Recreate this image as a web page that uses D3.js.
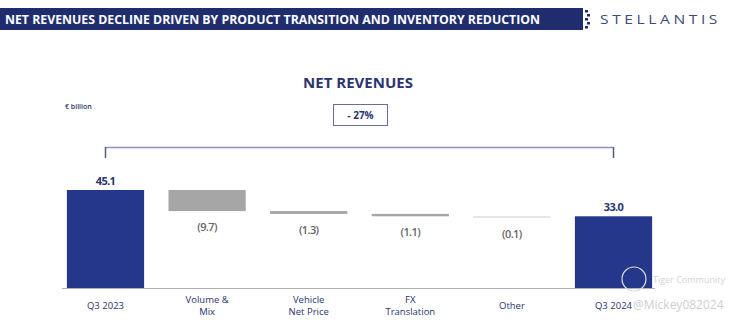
<!DOCTYPE html>
<html>
<head>
<meta charset="utf-8">
<script src="https://cdn.jsdelivr.net/npm/d3@7"></script>
<style>
  body { margin: 0; background: #fff; }
  svg { display: block; font-family: "Open Sans", "DejaVu Sans", sans-serif; }
</style>
</head>
<body>
<div id="chart"></div>
<script>
// waterfall data, € billion
const categories = ['Q3 2023', 'Volume &\nMix', 'Vehicle\nNet Price', 'FX\nTranslation', 'Other', 'Q3 2024']
const values = [45.1, -9.7, -1.3, -1.1, -0.1, 33.0]
const kinds = ['total', 'delta', 'delta', 'delta', 'delta', 'total']
const valueLabels = ['45.1', '(9.7)', '(1.3)', '(1.1)', '(0.1)', '33.0']

const W = 742, H = 322
const navy = '#24378a'
const textNavy = '#2b3470'

const svg = d3.select('#chart').append('svg')
  .attr('width', W)
  .attr('height', H)

// header band
svg.append('rect')
  .attr('x', 0).attr('y', 8)
  .attr('width', 583).attr('height', 22)
  .attr('fill', '#1f2d6e')
svg.append('text')
  .attr('x', 5).attr('y', 23.5)
  .attr('fill', '#fff')
  .attr('font-size', 12.5)
  .attr('font-weight', 700)
  .attr('textLength', 535)
  .attr('lengthAdjust', 'spacingAndGlyphs')
  .text('NET REVENUES DECLINE DRIVEN BY PRODUCT TRANSITION AND INVENTORY REDUCTION')

// little dotted edge of the band
;[11, 15, 19, 23, 27].forEach((y, i) => {
  svg.append('rect')
    .attr('x', 585 + (i % 2) * 2).attr('y', y - 1)
    .attr('width', 3).attr('height', 2.5)
    .attr('fill', '#1f2d6e')
})

svg.append('text')
  .attr('x', 600).attr('y', 23.5)
  .attr('fill', '#3d4a7a')
  .attr('font-size', 13)
  .attr('letter-spacing', 3)
  .attr('textLength', 121)
  .attr('lengthAdjust', 'spacingAndGlyphs')
  .text('STELLANTIS')

// titles
svg.append('text')
  .attr('x', 358).attr('y', 88)
  .attr('text-anchor', 'middle')
  .attr('fill', textNavy)
  .attr('font-size', 15)
  .attr('font-weight', 700)
  .text('NET REVENUES')

svg.append('text')
  .attr('x', 65).attr('y', 109)
  .attr('fill', textNavy)
  .attr('font-size', 7)
  .attr('font-weight', 600)
  .text('€ billion')

svg.append('rect')
  .attr('x', 333.5).attr('y', 104.5)
  .attr('width', 54).attr('height', 21)
  .attr('fill', '#fff')
  .attr('stroke', '#6a6f95')
  .attr('stroke-width', 1)
svg.append('text')
  .attr('x', 360.5).attr('y', 119)
  .attr('text-anchor', 'middle')
  .attr('fill', textNavy)
  .attr('font-size', 10)
  .attr('font-weight', 700)
  .text('- 27%')

// scales
const x = d3.scaleBand()
  .domain(categories)
  .range([54.7, 664.3])
  .paddingInner(0.24)
  .paddingOuter(0.12)

const y = d3.scaleLinear()
  .domain([0, 45.1])
  .range([288, 190])

// running totals for the waterfall
let running = 0
const bars = categories.map((c, i) => {
  let y0, y1
  if (kinds[i] === 'total') {
    y0 = 0; y1 = values[i]; running = values[i]
  } else {
    y0 = running + values[i]; y1 = running; running = y0
  }
  return { cat: c, y0: y0, y1: y1, kind: kinds[i], label: valueLabels[i], v: values[i] }
})

// bracket over the chart
const bx0 = x(categories[0]) + x.bandwidth() / 2
const bx1 = x(categories[5]) + x.bandwidth() / 2
svg.append('line')
  .attr('x1', bx0).attr('x2', bx1)
  .attr('y1', 147.5).attr('y2', 147.5)
  .attr('stroke', '#8c90c4').attr('stroke-width', 1.5)
;[bx0, bx1].forEach(bx => {
  svg.append('line')
    .attr('x1', bx).attr('x2', bx)
    .attr('y1', 147).attr('y2', 158)
    .attr('stroke', '#555a80').attr('stroke-width', 1.5)
})

// bars
svg.selectAll('rect.bar')
  .data(bars)
  .enter()
  .append('rect')
  .attr('class', 'bar')
  .attr('x', d => x(d.cat))
  .attr('y', d => y(d.y1))
  .attr('width', x.bandwidth())
  .attr('height', d => Math.max(y(d.y0) - y(d.y1), d.kind === 'total' ? 0 : 1.5))
  .attr('fill', d => {
    if (d.kind === 'total') return navy
    return Math.abs(d.v) < 0.5 ? '#dcdcdc' : '#a6a6a6'
  })

// baseline
svg.append('line')
  .attr('x1', 62).attr('x2', 655)
  .attr('y1', y(0) + 0.5).attr('y2', y(0) + 0.5)
  .attr('stroke', '#b0b0b0').attr('stroke-width', 1)

// value labels
svg.selectAll('text.val')
  .data(bars)
  .enter()
  .append('text')
  .attr('class', 'val')
  .attr('x', d => x(d.cat) + x.bandwidth() / 2)
  .attr('y', d => d.kind === 'total' ? y(d.y1) - 5 : Math.max(y(d.y0), y(d.y1) + 1.5) + 20)
  .attr('text-anchor', 'middle')
  .attr('fill', d => d.kind === 'total' ? textNavy : '#666')
  .attr('font-size', 11)
  .attr('font-weight', d => d.kind === 'total' ? 700 : 600)
  .attr('letter-spacing', -0.6)
  .text(d => d.label)

// category labels
const cat = svg.selectAll('text.cat')
  .data(categories)
  .enter()
  .append('text')
  .attr('class', 'cat')
  .attr('text-anchor', 'middle')
  .attr('fill', textNavy)
  .attr('font-size', 9.5)
  .attr('transform', d => {
    let lines = d.split('\n').length
    return `translate(${x(d) + x.bandwidth() / 2}, ${lines > 1 ? 302.5 : 308.5})`
  })

cat.selectAll('tspan')
  .data(d => d.split('\n'))
  .enter()
  .append('tspan')
  .attr('x', 0)
  .attr('dy', (d, i) => i === 0 ? 0 : 12)
  .text(d => d)

// watermark
svg.append('circle')
  .attr('cx', 634).attr('cy', 279)
  .attr('r', 12)
  .attr('fill', 'none')
  .attr('stroke', '#dcdce4')
  .attr('stroke-width', 1.2)
svg.append('text')
  .attr('x', 653).attr('y', 283)
  .attr('fill', '#d4d4d4')
  .attr('font-size', 9)
  .text('Tiger Community')
svg.append('text')
  .attr('x', 633).attr('y', 309)
  .attr('fill', '#cfcfcf')
  .attr('font-size', 12)
  .text('@Mickey082024')
</script>
</body>
</html>
